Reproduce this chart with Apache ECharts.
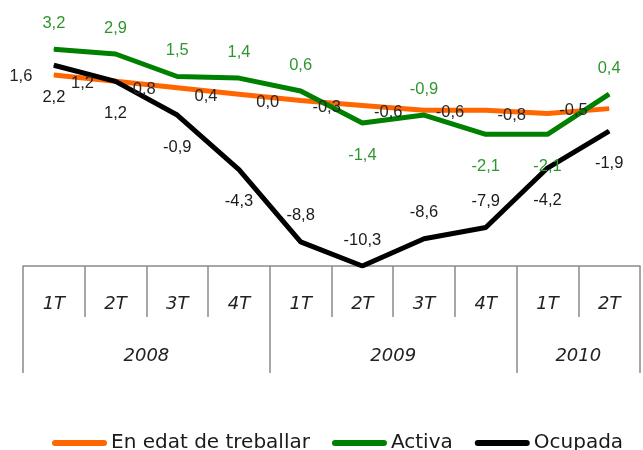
<!DOCTYPE html>
<html>
<head>
<meta charset="utf-8">
<script src="https://cdn.jsdelivr.net/npm/echarts@6/dist/echarts.min.js"></script>
<style>html,body{margin:0;padding:0;background:#fff}#c{width:643px;height:450px}</style>
</head>
<body>
<div id="c"></div>
<script>
const quarters = ['1T','2T','3T','4T','1T','2T','3T','4T','1T','2T'];
const years = ['2008','2009','2010'];
const quartersPerYear = [4,4,2];
const seriesNames = ['En edat de treballar','Activa','Ocupada'];
const edatTreballar = [1.6,1.2,0.8,0.4,0.0,-0.3,-0.6,-0.6,-0.8,-0.5];
const activa = [3.2,2.9,1.5,1.4,0.6,-1.4,-0.9,-2.1,-2.1,0.4];
const ocupada = [2.2,1.2,-0.9,-4.3,-8.8,-10.3,-8.6,-7.9,-4.2,-1.9];

// label placement (style only)
const activaSide = ['up','up','up','up','up','down','up','down','down','up'];
const ocupadaSide = ['down','down','down','down','up','up','up','up','down','down'];

const yearStarts = [], yearCenters = [];
let acc = 0;
quartersPerYear.forEach(n => { yearStarts.push(acc); yearCenters.push(acc + n / 2); acc += n; });

const fmt = v => v.toFixed(1).replace('.', ',');
const labelFont = {fontFamily: 'Liberation Sans', fontSize: 16.5};

function sideItems(values, sides) {
  return values.map((v, i) => ({
    value: v,
    label: {position: 'inside', offset: sides[i] === 'up' ? [0, -26] : [0, 32]}
  }));
}

const chart = echarts.init(document.getElementById('c'), null, {renderer: 'canvas'});
const axisGrey = '#8a8a8a';
const axisFont = {color: '#222', fontFamily: 'DejaVu Sans', fontStyle: 'italic', fontWeight: 200, fontSize: 18};
chart.setOption({
  animation: false,
  backgroundColor: '#ffffff',
  grid: {left: 23, right: -2, top: 20.3, bottom: 184, containLabel: false},
  legend: {
    data: seriesNames,
    left: 47, top: 428,
    itemWidth: 55, itemHeight: 6, itemGap: 22,
    icon: 'path://M3,0 L52,0 A3,3 0 0 1 52,6 L3,6 A3,3 0 0 1 3,0 Z',
    textStyle: {fontFamily: 'DejaVu Sans', fontSize: 20, color: '#1a1a1a', padding: [0,0,0,-1]}
  },
  xAxis: [
    {
      type: 'category', data: quarters, position: 'bottom', boundaryGap: true,
      axisLine: {show: true, onZero: false, lineStyle: {color: axisGrey, width: 1.5}},
      axisTick: {show: true, length: 51, lineStyle: {color: axisGrey, width: 1.5}},
      axisLabel: Object.assign({margin: 29, interval: 0}, axisFont),
      splitLine: {show: false}
    },
    {
      type: 'category', data: quarters, position: 'bottom', boundaryGap: true,
      axisLine: {show: false, onZero: false},
      axisTick: {show: true, length: 107, interval: (idx) => yearStarts.indexOf(idx) >= 0, lineStyle: {color: axisGrey, width: 1.5}},
      axisLabel: {show: false},
      splitLine: {show: false}
    },
    {
      type: 'value', position: 'bottom', min: 0, max: quarters.length, interval: 1,
      axisLine: {show: false, onZero: false},
      axisTick: {show: false},
      axisLabel: Object.assign({
        margin: 81, showMinLabel: true, showMaxLabel: true,
        formatter: v => { const i = yearCenters.indexOf(v); return i >= 0 ? years[i] : ''; }
      }, axisFont),
      splitLine: {show: false}
    }
  ],
  yAxis: {type: 'value', min: -10.3, max: 5, show: false, splitLine: {show: false}},
  series: [
    {
      name: seriesNames[0], type: 'line', xAxisIndex: 0, data: edatTreballar,
      symbol: 'circle', symbolSize: 1, showSymbol: true,
      itemStyle: {color: '#FF6600'}, lineStyle: {color: '#FF6600', width: 5},
      label: Object.assign({show: true, position: 'left', distance: 21, offset: [0, 2], color: '#262626', formatter: p => fmt(p.value)}, labelFont)
    },
    {
      name: seriesNames[1], type: 'line', xAxisIndex: 0, data: sideItems(activa, activaSide),
      symbol: 'circle', symbolSize: 1, showSymbol: true,
      itemStyle: {color: '#008000'}, lineStyle: {color: '#008000', width: 5},
      label: Object.assign({show: true, color: '#2f962f', formatter: p => fmt(p.value)}, labelFont)
    },
    {
      name: seriesNames[2], type: 'line', xAxisIndex: 0, data: sideItems(ocupada, ocupadaSide),
      symbol: 'circle', symbolSize: 1, showSymbol: true,
      itemStyle: {color: '#000000'}, lineStyle: {color: '#000000', width: 5},
      label: Object.assign({show: true, color: '#1a1a1a', formatter: p => fmt(p.value)}, labelFont)
    }
  ]
});
</script>
</body>
</html>
